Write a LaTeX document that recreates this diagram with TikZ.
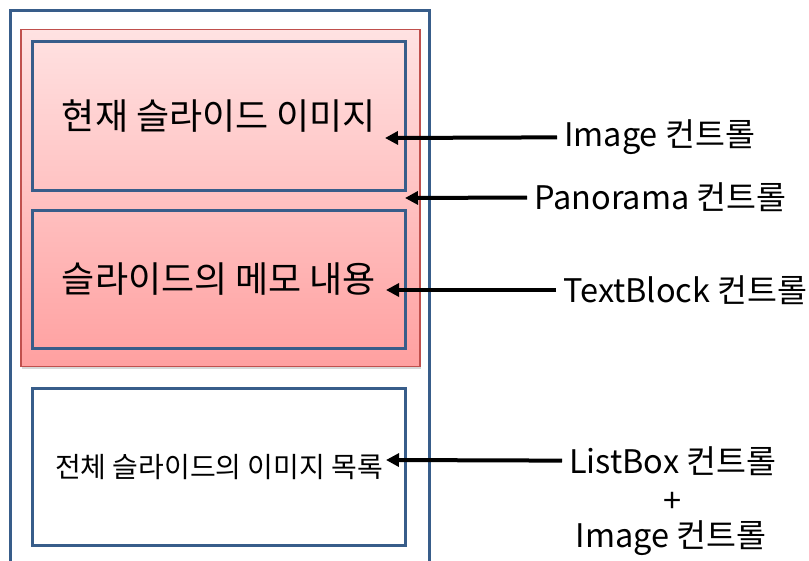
\documentclass[tikz,border=0pt]{standalone}
\usepackage{fontspec}
\setmainfont{Noto Sans CJK KR}
\usetikzlibrary{arrows.meta,positioning,shadows}
\definecolor{frameblue}{RGB}{56,93,138}
\definecolor{panoedge}{RGB}{192,80,77}
\definecolor{panotop}{RGB}{255,226,226}
\definecolor{panobot}{RGB}{255,160,160}
\tikzset{
  >={Triangle[length=13pt,width=13pt]},
  frame/.style={draw=frameblue,line width=3pt,anchor=north west,inner sep=0pt,
    minimum width=#1},
  frame/.default=373pt,
  pano/.style={draw=panoedge,line width=1.5pt,top color=panotop,bottom color=panobot,
    anchor=north west,minimum width=399pt,minimum height=337pt,
    drop shadow={opacity=0.3,shadow xshift=1.5pt,shadow yshift=-2pt}},
  big/.style={font=\fontsize{36}{42}\selectfont},
  tag/.style={font=\fontsize{32.5}{39}\selectfont,inner sep=7pt},
  flow/.style={->,line width=4pt,draw=black},
}
\begin{document}
\begin{tikzpicture}[x=1pt,y=1pt]
  \useasboundingbox (0,0) rectangle (809,-561);
  % slide screen
  \node[frame=419pt,fill=white,minimum height=570pt] (slide) at (9,-9) {};
  \node[pano] (panorama) at (20,-29) {};
  \node[frame,minimum height=149pt,big] (imgbox) at (31,-40) {현재 슬라이드 이미지};
  \node[frame,minimum height=138pt,big] (memobox) at (31,-209) {슬라이드의 메모 내용};
  \node[frame,minimum height=157pt,fill=white,font=\fontsize{28}{34}\selectfont] (listbox) at (31,-387) {전체 슬라이드의 이미지 목록};
  % arrow ends
  \coordinate (imgtip) at (385,-138);
  \coordinate (panotip) at (405,-198);
  \coordinate (memotip) at (386,-290);
  \coordinate (listtip) at (386,-460);
  % control names
  \node[tag,anchor=west] (imglbl) at (557,-137) {Image 컨트롤};
  \node[tag,anchor=west] (panolbl) at (527,-197) {Panorama 컨트롤};
  \node[tag,anchor=west] (memolbl) at (556,-290) {TextBlock 컨트롤};
  \node[tag,anchor=west] (listlbl) at (562,-461) {ListBox 컨트롤};
  \node[tag] (pluslbl) at (673,-502) {+};
  \node[tag] (imglbl2) at (671,-538) {Image 컨트롤};
  \draw[flow] (imglbl) -- (imgtip);
  \draw[flow] (panolbl) -- (panotip);
  \draw[flow] (memolbl) -- (memotip);
  \draw[flow] (listlbl) -- (listtip);
\end{tikzpicture}
\end{document}
